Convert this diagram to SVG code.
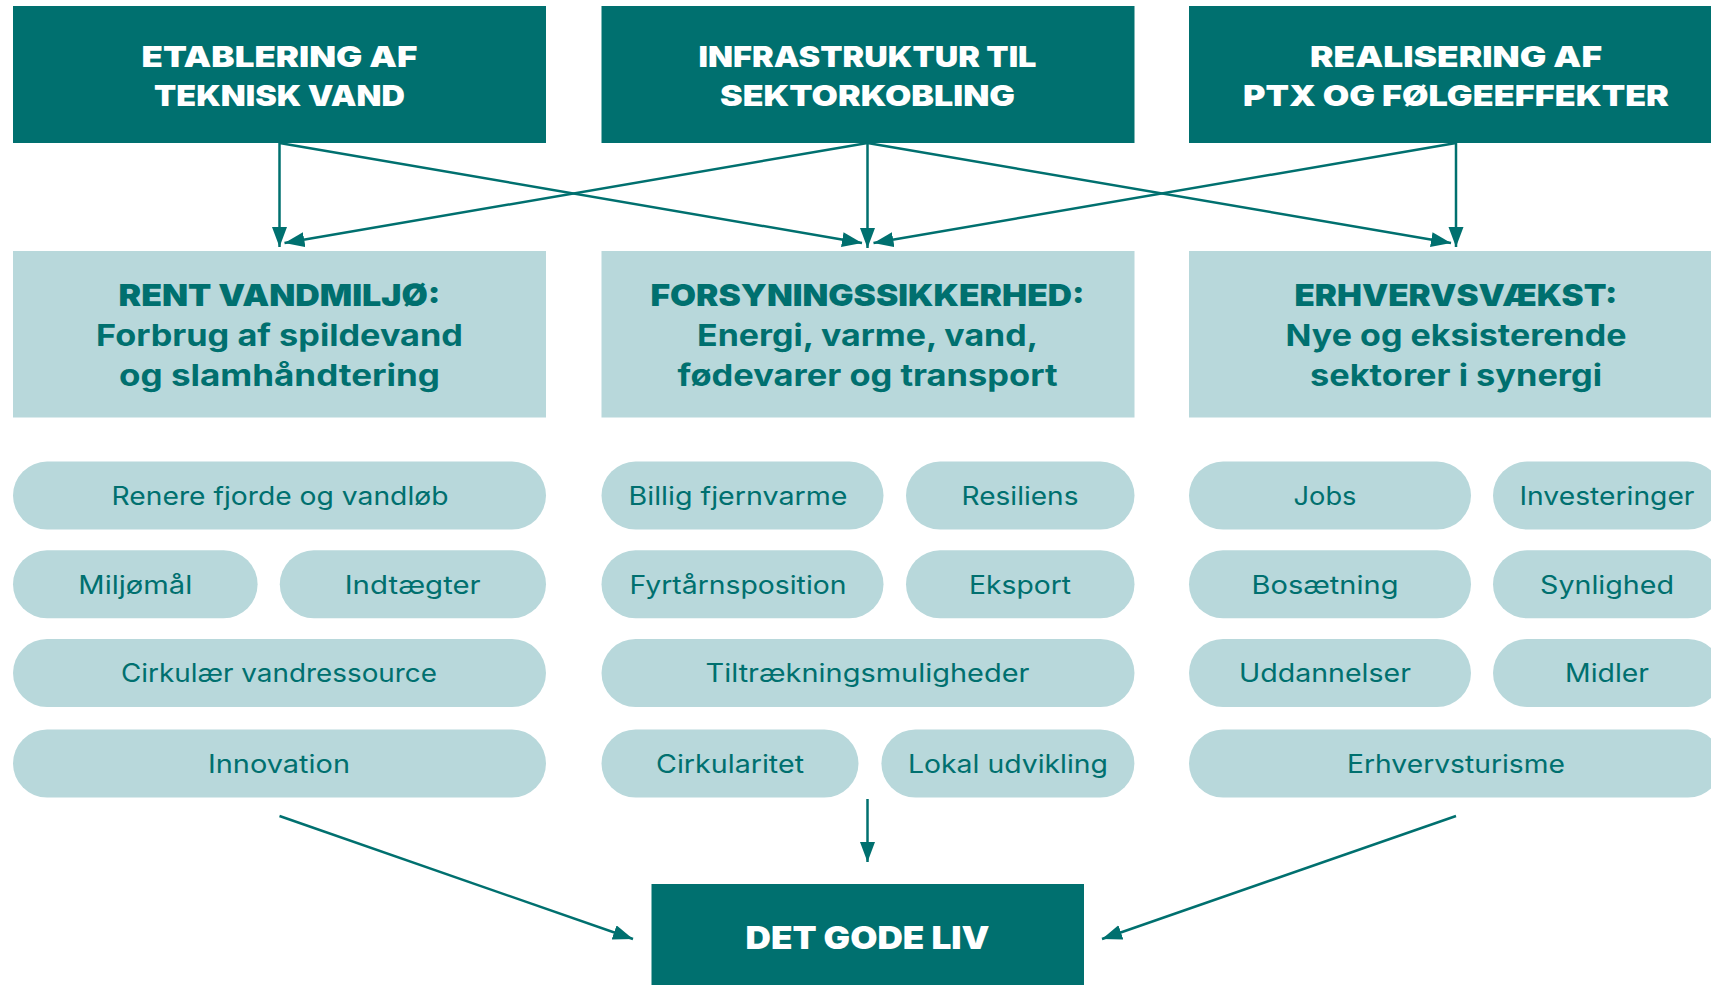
<svg xmlns="http://www.w3.org/2000/svg" width="1711" height="985" viewBox="0 0 1711 985">
<defs>
<style>
.dark{fill:#00706F}
.light{fill:#B8D8DB}
.tw{fill:#FFFFFF;font-family:Inter,"Liberation Sans",sans-serif;font-weight:900;font-size:29px;text-anchor:middle}
.h1{fill:#00706F;font-family:Inter,"Liberation Sans",sans-serif;font-weight:900;font-size:30px;text-anchor:middle}
.h2{fill:#00706F;font-family:Inter,"Liberation Sans",sans-serif;font-weight:700;font-size:30px;text-anchor:middle}
.p{fill:#00706F;font-family:Inter,"Liberation Sans",sans-serif;font-weight:400;font-size:25px;text-anchor:middle}
.c{stroke:#00706F;stroke-width:2.5;fill:none;marker-end:url(#ah)}
</style>
<marker id="ah" markerUnits="userSpaceOnUse" markerWidth="22" markerHeight="16" refX="20" refY="7.5" orient="auto">
<path d="M0,0 L20,7.5 L0,15 Z" fill="#00706F"/>
</marker>
</defs>
<rect width="1711" height="985" fill="#FFFFFF"/>

<g id="top1"><rect class="dark" x="13" y="6" width="533" height="137"/><text class="tw" x="279.5" y="66.7" textLength="276" lengthAdjust="spacingAndGlyphs">ETABLERING AF</text><text class="tw" x="279.5" y="106" textLength="251" lengthAdjust="spacingAndGlyphs">TEKNISK VAND</text></g>
<g id="top2"><rect class="dark" x="601.5" y="6" width="533" height="137"/><text class="tw" x="867.5" y="66.7" textLength="338" lengthAdjust="spacingAndGlyphs">INFRASTRUKTUR TIL</text><text class="tw" x="867.5" y="106" textLength="295" lengthAdjust="spacingAndGlyphs">SEKTORKOBLING</text></g>
<g id="top3"><rect class="dark" x="1189" y="6" width="533" height="137"/><text class="tw" x="1456" y="66.7" textLength="292" lengthAdjust="spacingAndGlyphs">REALISERING AF</text><text class="tw" x="1456" y="106" textLength="426" lengthAdjust="spacingAndGlyphs">PTX OG FØLGEEFFEKTER</text></g>

<g id="mid1"><rect class="light" x="13" y="251" width="533" height="166.5"/><text class="h1" x="279.5" y="306" textLength="322" lengthAdjust="spacingAndGlyphs">RENT VANDMILJØ:</text><text class="h2" x="279.5" y="346" textLength="367" lengthAdjust="spacingAndGlyphs">Forbrug af spildevand</text><text class="h2" x="279.5" y="385.7" textLength="321" lengthAdjust="spacingAndGlyphs">og slamhåndtering</text></g>
<g id="mid2"><rect class="light" x="601.5" y="251" width="533" height="166.5"/><text class="h1" x="867.5" y="306" textLength="434" lengthAdjust="spacingAndGlyphs">FORSYNINGSSIKKERHED:</text><text class="h2" x="867.5" y="346" textLength="341" lengthAdjust="spacingAndGlyphs">Energi, varme, vand,</text><text class="h2" x="867.5" y="385.7" textLength="380" lengthAdjust="spacingAndGlyphs">fødevarer og transport</text></g>
<g id="mid3"><rect class="light" x="1189" y="251" width="533" height="166.5"/><text class="h1" x="1456" y="306" textLength="323" lengthAdjust="spacingAndGlyphs">ERHVERVSVÆKST:</text><text class="h2" x="1456" y="346" textLength="341" lengthAdjust="spacingAndGlyphs">Nye og eksisterende</text><text class="h2" x="1456" y="385.7" textLength="292" lengthAdjust="spacingAndGlyphs">sektorer i synergi</text></g>

<g id="p-renere"><rect class="light" x="13" y="461.6" width="533" height="68" rx="34"/><text class="p" x="280" y="505" textLength="337" lengthAdjust="spacingAndGlyphs">Renere fjorde og vandløb</text></g>
<g id="p-miljo"><rect class="light" x="13" y="550.3" width="244.6" height="68" rx="34"/><text class="p" x="135.3" y="593.6" textLength="114" lengthAdjust="spacingAndGlyphs">Miljømål</text></g>
<g id="p-indt"><rect class="light" x="279.8" y="550.3" width="266.2" height="68" rx="34"/><text class="p" x="412.7" y="593.6" textLength="136" lengthAdjust="spacingAndGlyphs">Indtægter</text></g>
<g id="p-cirkvand"><rect class="light" x="13" y="639" width="533" height="68" rx="34"/><text class="p" x="279" y="682.3" textLength="316" lengthAdjust="spacingAndGlyphs">Cirkulær vandressource</text></g>
<g id="p-innov"><rect class="light" x="13" y="729.5" width="533" height="68" rx="34"/><text class="p" x="279" y="772.8" textLength="142" lengthAdjust="spacingAndGlyphs">Innovation</text></g>

<g id="p-billig"><rect class="light" x="601.5" y="461.6" width="282" height="68" rx="34"/><text class="p" x="738" y="505" textLength="219" lengthAdjust="spacingAndGlyphs">Billig fjernvarme</text></g>
<g id="p-resil"><rect class="light" x="906" y="461.6" width="228.5" height="68" rx="34"/><text class="p" x="1020" y="505" textLength="117" lengthAdjust="spacingAndGlyphs">Resiliens</text></g>
<g id="p-fyr"><rect class="light" x="601.5" y="550.3" width="282" height="68" rx="34"/><text class="p" x="738" y="593.6" textLength="217" lengthAdjust="spacingAndGlyphs">Fyrtårnsposition</text></g>
<g id="p-eksport"><rect class="light" x="906" y="550.3" width="228.5" height="68" rx="34"/><text class="p" x="1020" y="593.6" textLength="102" lengthAdjust="spacingAndGlyphs">Eksport</text></g>
<g id="p-tiltr"><rect class="light" x="601.5" y="639" width="533" height="68" rx="34"/><text class="p" x="867.5" y="682.3" textLength="324" lengthAdjust="spacingAndGlyphs">Tiltrækningsmuligheder</text></g>
<g id="p-cirk"><rect class="light" x="601.5" y="729.5" width="257" height="68" rx="34"/><text class="p" x="730" y="772.8" textLength="148" lengthAdjust="spacingAndGlyphs">Cirkularitet</text></g>
<g id="p-lokal"><rect class="light" x="881.4" y="729.5" width="253" height="68" rx="34"/><text class="p" x="1008" y="772.8" textLength="200" lengthAdjust="spacingAndGlyphs">Lokal udvikling</text></g>

<g id="p-jobs"><rect class="light" x="1189" y="461.6" width="282" height="68" rx="34"/><text class="p" x="1325" y="505" textLength="63" lengthAdjust="spacingAndGlyphs">Jobs</text></g>
<g id="p-invest"><rect class="light" x="1493" y="461.6" width="229" height="68" rx="34"/><text class="p" x="1607" y="505" textLength="175" lengthAdjust="spacingAndGlyphs">Investeringer</text></g>
<g id="p-bos"><rect class="light" x="1189" y="550.3" width="282" height="68" rx="34"/><text class="p" x="1325" y="593.6" textLength="147" lengthAdjust="spacingAndGlyphs">Bosætning</text></g>
<g id="p-synl"><rect class="light" x="1493" y="550.3" width="229" height="68" rx="34"/><text class="p" x="1607" y="593.6" textLength="134" lengthAdjust="spacingAndGlyphs">Synlighed</text></g>
<g id="p-udd"><rect class="light" x="1189" y="639" width="282" height="68" rx="34"/><text class="p" x="1325" y="682.3" textLength="172" lengthAdjust="spacingAndGlyphs">Uddannelser</text></g>
<g id="p-midler"><rect class="light" x="1493" y="639" width="229" height="68" rx="34"/><text class="p" x="1607" y="682.3" textLength="84" lengthAdjust="spacingAndGlyphs">Midler</text></g>
<g id="p-erhv"><rect class="light" x="1189" y="729.5" width="533" height="68" rx="34"/><text class="p" x="1456" y="772.8" textLength="218" lengthAdjust="spacingAndGlyphs">Erhvervsturisme</text></g>

<g id="bottom"><rect class="dark" x="651.5" y="884" width="432.5" height="110"/><text class="tw" x="867.5" y="949" style="font-size:31px" textLength="244" lengthAdjust="spacingAndGlyphs">DET GODE LIV</text></g>

<g id="connectors">
<line class="c" x1="279.5" y1="143" x2="279.5" y2="247"/>
<line class="c" x1="279.5" y1="143" x2="862" y2="243"/>
<line class="c" x1="867.5" y1="143" x2="284.5" y2="243"/>
<line class="c" x1="867.5" y1="143" x2="867.5" y2="248"/>
<line class="c" x1="867.5" y1="143" x2="1451" y2="243"/>
<line class="c" x1="1456" y1="143" x2="873.5" y2="243"/>
<line class="c" x1="1456" y1="143" x2="1456" y2="247"/>
<line class="c" x1="279.5" y1="816" x2="633" y2="939"/>
<line class="c" x1="867.5" y1="799" x2="867.5" y2="862"/>
<line class="c" x1="1456" y1="816" x2="1102" y2="939"/>
</g>
</svg>
